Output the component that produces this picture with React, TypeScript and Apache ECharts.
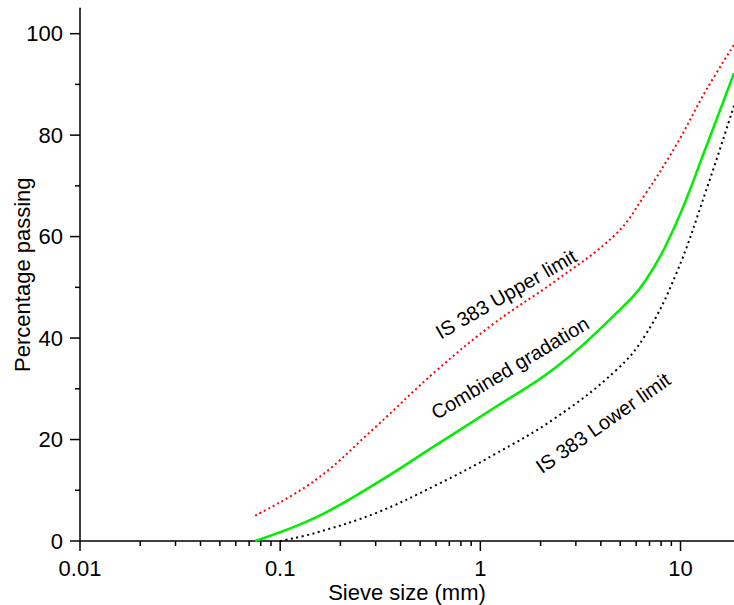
import React, { useEffect, useRef } from "react";
import * as echarts from "echarts";

// Sieve sizes (mm) and percentage passing
const upperSieve = [0.075, 0.15, 0.3, 0.6, 1.18, 2.36, 4.75, 6.7, 9.5, 13.4, 18.5];
const upperPassing = [5, 12, 22.5, 33.5, 43, 51.2, 60.5, 68.5, 78, 88.8, 97.8];

const combinedSieve = [0.075, 0.15, 0.3, 0.6, 1.18, 2.36, 4.75, 6.7, 9.5, 13.4, 18.5];
const combinedPassing = [0, 4.6, 11.3, 18.9, 26.3, 34.1, 44.8, 51.4, 62.6, 77.6, 92.2];

const lowerSieve = [0.1, 0.15, 0.3, 0.6, 1.18, 2.36, 4.75, 6.7, 9.5, 13.4, 18.5];
const lowerPassing = [0, 1.6, 5.5, 11, 17.1, 24.2, 33.6, 40.7, 52.6, 69, 85.8];

// Axis ticks
const xMajorTicks = [0.01, 0.1, 1, 10];
const xMinorTicks = [
  0.02, 0.03, 0.04, 0.05, 0.06, 0.07, 0.08, 0.09,
  0.2, 0.3, 0.4, 0.5, 0.6, 0.7, 0.8, 0.9,
  2, 3, 4, 5, 6, 7, 8, 9,
];
const yMajorTicks = [0, 20, 40, 60, 80, 100];
const yMinorTicks = [10, 30, 50, 70, 90];

const X_MIN = 0.01;
const X_MAX = 18.5;
const Y_MIN = 0;
const Y_MAX = 105;

const FONT = "'Liberation Sans', Arial, Helvetica, sans-serif";

function pair(xs: number[], ys: number[]) {
  return xs.map((x, i) => [x, ys[i]]);
}

function xTickSeries(values: number[], len: number) {
  return {
    type: "custom",
    silent: true,
    clip: false,
    z: 5,
    data: values.map((v) => [v, Y_MIN]),
    encode: { x: 0, y: 1 },
    renderItem: (_p: any, api: any) => {
      const pt = api.coord([api.value(0), api.value(1)]);
      return {
        type: "line",
        shape: { x1: pt[0], y1: pt[1], x2: pt[0], y2: pt[1] + len },
        style: { stroke: "#000", lineWidth: 1.5 },
      };
    },
  };
}

function yTickSeries(values: number[], len: number) {
  return {
    type: "custom",
    silent: true,
    clip: false,
    z: 5,
    data: values.map((v) => [X_MIN, v]),
    encode: { x: 0, y: 1 },
    renderItem: (_p: any, api: any) => {
      const pt = api.coord([api.value(0), api.value(1)]);
      return {
        type: "line",
        shape: { x1: pt[0] - len, y1: pt[1], x2: pt[0], y2: pt[1] },
        style: { stroke: "#000", lineWidth: 1.5 },
      };
    },
  };
}

export default function App() {
  const ref = useRef<HTMLDivElement>(null);

  useEffect(() => {
    if (!ref.current) return;
    const chart = echarts.init(ref.current, undefined, { renderer: "svg" });
    const deg = Math.PI / 180;
    const annStyle = {
      fontSize: 20,
      fontFamily: FONT,
      fill: "#000",
      align: "center",
      verticalAlign: "middle",
    };
    chart.setOption({
      animation: false,
      backgroundColor: "#fff",
      textStyle: { fontFamily: FONT },
      grid: {
        left: 80,
        right: 0,
        top: 8.3,
        bottom: 64,
        containLabel: false,
        outerBoundsMode: "none",
      },
      xAxis: {
        type: "log",
        logBase: 10,
        min: X_MIN,
        max: X_MAX,
        name: "Sieve size (mm)",
        nameLocation: "middle",
        nameGap: 40,
        nameMoveOverlap: false,
        nameTextStyle: { fontSize: 22, color: "#000", fontFamily: FONT },
        axisLine: { show: true, lineStyle: { color: "#000", width: 1.5 } },
        axisTick: { show: false },
        minorTick: { show: false },
        splitLine: { show: false },
        axisLabel: {
          margin: 16,
          fontSize: 22,
          color: "#000",
          fontFamily: FONT,
          showMaxLabel: false,
          formatter: (v: number) => {
            const m = xMajorTicks.find(
              (t) => Math.abs(Math.log10(t) - Math.log10(v)) < 1e-6
            );
            return m !== undefined ? String(m) : "";
          },
        },
      },
      yAxis: {
        type: "value",
        min: Y_MIN,
        max: Y_MAX,
        interval: 20,
        name: "Percentage passing",
        nameLocation: "middle",
        nameGap: 47,
        nameMoveOverlap: false,
        nameTextStyle: { fontSize: 22, color: "#000", fontFamily: FONT },
        axisLine: { show: true, lineStyle: { color: "#000", width: 1.5 } },
        axisTick: { show: false },
        splitLine: { show: false },
        axisLabel: {
          margin: 17,
          fontSize: 22,
          color: "#000",
          fontFamily: FONT,
          showMaxLabel: false,
          formatter: (v: number) => (yMajorTicks.includes(v) ? String(v) : ""),
        },
      },
      graphic: [
        {
          type: "text",
          x: 506,
          y: 294,
          rotation: 30 * deg,
          style: { ...annStyle, text: "IS 383 Upper limit" },
        },
        {
          type: "text",
          x: 510,
          y: 368,
          rotation: 31 * deg,
          style: { ...annStyle, text: "Combined gradation" },
        },
        {
          type: "text",
          x: 603,
          y: 423,
          rotation: 35 * deg,
          style: { ...annStyle, text: "IS 383 Lower limit" },
        },
      ],
      series: [
        {
          name: "IS 383 Upper limit",
          type: "line",
          data: pair(upperSieve, upperPassing),
          smooth: 0.4,
          symbol: "none",
          lineStyle: { color: "#ff0000", width: 2, type: [2, 3] },
          z: 3,
        },
        {
          name: "Combined gradation",
          type: "line",
          data: pair(combinedSieve, combinedPassing),
          smooth: 0.4,
          symbol: "none",
          lineStyle: { color: "#00ee00", width: 2.5 },
          z: 3,
        },
        {
          name: "IS 383 Lower limit",
          type: "line",
          data: pair(lowerSieve, lowerPassing),
          smooth: 0.4,
          symbol: "none",
          lineStyle: { color: "#000000", width: 2, type: [2, 3.5] },
          z: 3,
        },
        xTickSeries(xMajorTicks, 10),
        xTickSeries(xMinorTicks, 5),
        yTickSeries(yMajorTicks, 10),
        yTickSeries(yMinorTicks, 5),
      ],
    });
    return () => chart.dispose();
  }, []);

  return (
    <div
      ref={ref}
      style={{ position: "fixed", left: 0, top: 0, width: 734, height: 605 }}
    />
  );
}
